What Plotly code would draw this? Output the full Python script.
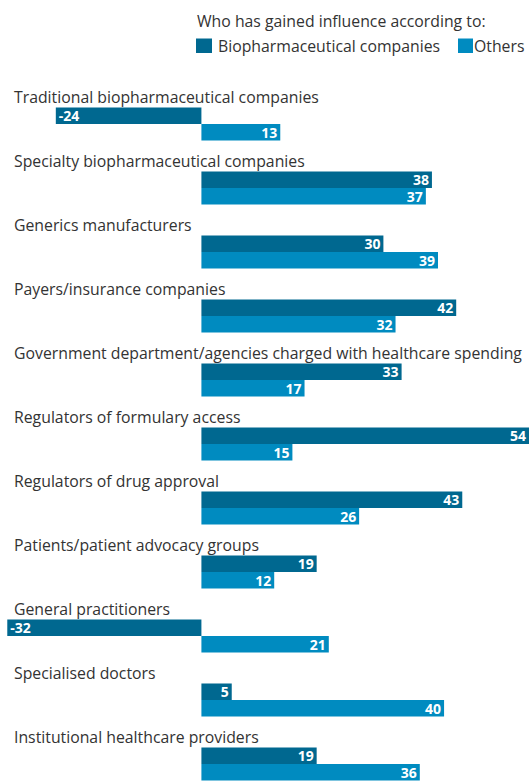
import plotly.graph_objects as go

categories = [
    "Traditional biopharmaceutical companies",
    "Specialty biopharmaceutical companies",
    "Generics manufacturers",
    "Payers/insurance companies",
    "Government department/agencies charged with healthcare spending",
    "Regulators of formulary access",
    "Regulators of drug approval",
    "Patients/patient advocacy groups",
    "General practitioners",
    "Specialised doctors",
    "Institutional healthcare providers",
]
biopharma = [-24, 38, 30, 42, 33, 54, 43, 19, -32, 5, 19]
others = [13, 37, 39, 32, 17, 15, 26, 12, 21, 40, 36]

series_names = ["Biopharmaceutical companies", "Others"]
legend_title = "Who has gained influence according to:"

DARK = "#006890"
LIGHT = "#008bc0"
FONT = "Open Sans"
W, H = 529, 781

idx = list(range(len(categories)))
bw = 0.258

fig = go.Figure()
for vals, name, color, off in [(biopharma, series_names[0], DARK, -bw / 2),
                               (others, series_names[1], LIGHT, bw / 2)]:
    fig.add_trace(go.Bar(
        y=[i + off for i in idx], x=vals, orientation="h", width=bw,
        name=name, marker=dict(color=color, line=dict(width=0)),
        text=[str(v) for v in vals], textposition="inside", insidetextanchor="end",
        textangle=0, constraintext="none",
        textfont=dict(color="white", size=14, family=FONT, weight="bold"),
        showlegend=False,
    ))

for i, c in zip(idx, categories):
    fig.add_annotation(x=0, xref="paper", xanchor="left", xshift=12,
                       y=i - 0.42, yref="y", yanchor="middle",
                       text=c, showarrow=False,
                       font=dict(size=15.8, color="#333333", family=FONT))

# legend (drawn manually)
def px(x):
    return x / W

def py(y):
    return 1 - y / H

fig.add_annotation(x=px(195), y=py(21), xref="paper", yref="paper", xanchor="left", yanchor="middle",
                   text=legend_title, showarrow=False, font=dict(size=15.8, color="#333333", family=FONT))
for (x0, x1, tx), name, color in [((196, 212, 216), series_names[0], DARK),
                                  ((458, 473, 472), series_names[1], LIGHT)]:
    fig.add_shape(type="rect", xref="paper", yref="paper", x0=px(x0), x1=px(x1), y0=py(53), y1=py(38.5),
                  fillcolor=color, line=dict(width=0))
    fig.add_annotation(x=px(tx), y=py(46), xref="paper", yref="paper", xanchor="left", yanchor="middle",
                       text=name, showarrow=False, font=dict(size=15.8, color="#333333", family=FONT))

fig.update_layout(
    width=W, height=H,
    margin=dict(l=0, r=0, t=0, b=0),
    paper_bgcolor="white", plot_bgcolor="white",
    barmode="overlay",
    showlegend=False,
    xaxis=dict(range=[-33.2, 54.0], visible=False, fixedrange=True),
    yaxis=dict(range=[(H - 124) / 64, -124 / 64], visible=False, fixedrange=True),
    font=dict(family=FONT),
)

fig.write_html("out.html")
